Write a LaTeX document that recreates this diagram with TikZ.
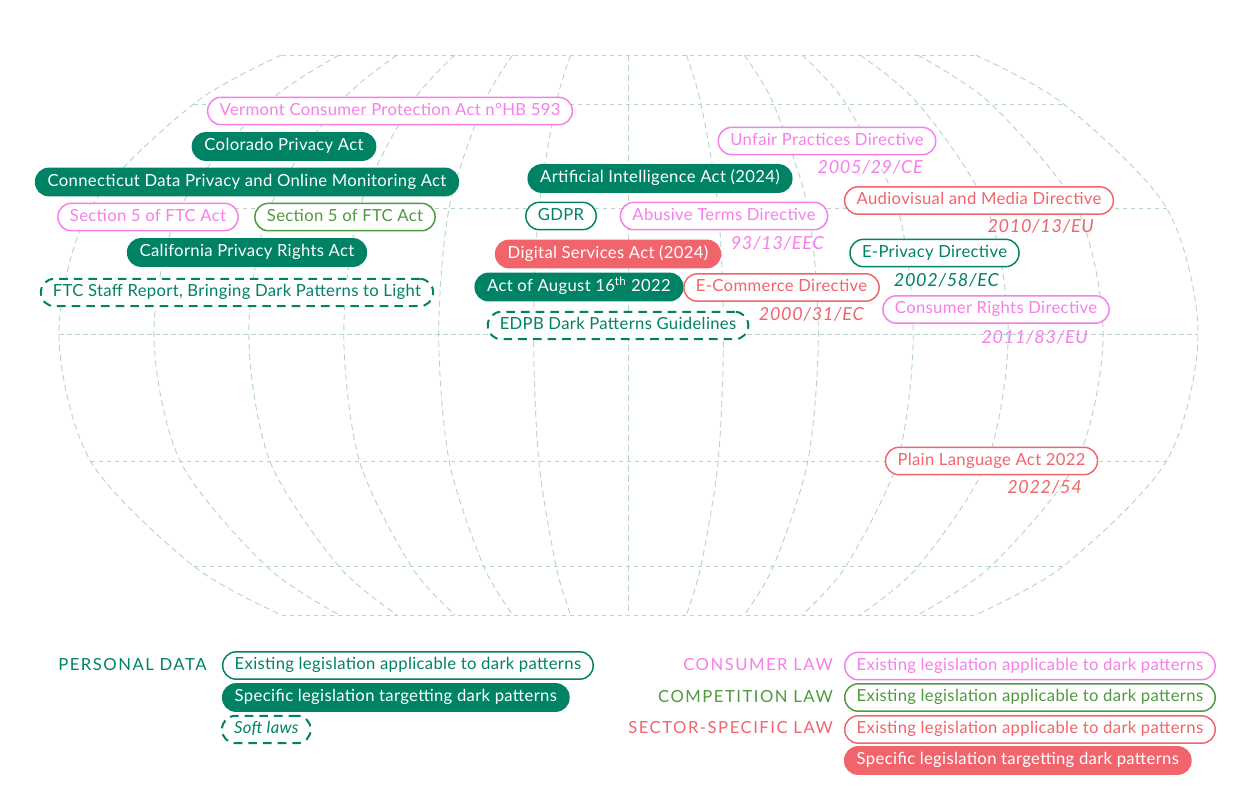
\documentclass[tikz,border=0pt]{standalone}
\usepackage{fontspec}
\setmainfont{Lato}[LetterSpace=2.0]
\definecolor{pdgreen}{HTML}{008264}
\definecolor{cpink}{HTML}{F77EEB}
\definecolor{cgreen}{HTML}{4E9A3E}
\definecolor{sred}{HTML}{F2646C}
\definecolor{gridc}{HTML}{B7D4CB}
\tikzset{
  law/.style={draw,line width=1.1pt,fill=white,rounded corners=10pt,minimum height=20.5pt,
    inner xsep=9pt,inner ysep=0pt,text height=9pt,text depth=2.5pt},
  pdexist/.style={law,draw=pdgreen,text=pdgreen},
  pdspec/.style={law,draw=pdgreen,fill=pdgreen,text=white},
  pdsoft/.style={law,draw=pdgreen,text=pdgreen,line width=1.5pt,dash pattern=on 6.5pt off 4.5pt},
  consexist/.style={law,draw=cpink,text=cpink},
  compexist/.style={law,draw=cgreen,text=cgreen},
  secexist/.style={law,draw=sred,text=sred},
  secspec/.style={law,draw=sred,fill=sred,text=white},
  date/.style={font=\fontsize{13.5}{16}\selectfont\itshape\addfontfeature{LetterSpace=4},anchor=east,inner sep=0pt},
  keylabel/.style={font=\fontsize{12.5}{15}\selectfont\addfontfeature{LetterSpace=9},inner sep=0pt},
  meridian/.style={draw=gridc,line width=0.7pt,dash pattern=on 4.5pt off 3pt},
  parallel/.style={draw=gridc,line width=0.7pt,dash pattern=on 3.5pt off 2.5pt}
}
\begin{document}
\begin{tikzpicture}[x=0.75pt,y=-0.75pt,font=\fontsize{12.5}{15}\selectfont]
\useasboundingbox (0,0) rectangle (1259,785);
% map grid
\foreach \k in {-6,...,6}
  \draw[meridian] plot[smooth] coordinates {(628.5+\k*57.83,55) (628.5+\k*72.5,104) (628.5+\k*89.67,208)
    (628.5+\k*94.92,334) (628.5+\k*89.67,461) (628.5+\k*72.5,566) (628.5+\k*57.83,615)};
\foreach \y/\h in {55/347,104/435,208/538,334/569.5,461/538,566/435,615/347}
  \draw[parallel] (628.5-\h,\y) -- (628.5+\h,\y);
% north america
\node[consexist] (vermont) at (390,111) {Vermont Consumer Protection Act n°HB 593};
\node[pdspec] (colorado) at (284,146.5) {Colorado Privacy Act};
\node[pdspec] (connecticut) at (247,182) {Connecticut Data Privacy and Online Monitoring Act};
\node[consexist] (ftccons) at (148,217) {Section 5 of FTC Act};
\node[compexist] (ftccomp) at (345,217) {Section 5 of FTC Act};
\node[pdspec] (california) at (247,252.5) {California Privacy Rights Act};
\node[pdsoft] (ftcreport) at (237,292.5) {FTC Staff Report, Bringing Dark Patterns to Light};
% europe
\node[pdspec] (aiact) at (660,178.5) {Artificial Intelligence Act (2024)};
\node[pdexist] (gdpr) at (561,216) {GDPR};
\node[consexist] (abusive) at (724,216) {Abusive Terms Directive};
\node[secspec] (dsa) at (608,254) {Digital Services Act (2024)};
\node[pdspec] (august) at (579,287) {Act of August 16\textsuperscript{th} 2022};
\node[pdsoft] (edpb) at (618,325.5) {EDPB Dark Patterns Guidelines};
\node[consexist] (unfair) at (827,141) {Unfair Practices Directive};
\node[secexist] (avmsd) at (979,200.5) {Audiovisual and Media Directive};
\node[pdexist] (eprivacy) at (934.5,253) {E-Privacy Directive};
\node[secexist] (ecommerce) at (781.5,287.5) {E-Commerce Directive};
\node[consexist] (crd) at (996,309.5) {Consumer Rights Directive};
\node[secexist] (plain) at (991.5,461) {Plain Language Act 2022};
% directive numbers
\node[date,text=cpink] (unfairno) at (923,167) {2005/29/CE};
\node[date,text=sred] (avmsdno) at (1094,226) {2010/13/EU};
\node[date,text=cpink] (abusiveno) at (824,243) {93/13/EEC};
\node[date,text=pdgreen] (eprivacyno) at (999,280) {2002/58/EC};
\node[date,text=sred] (ecommerceno) at (864,314) {2000/31/EC};
\node[date,text=cpink] (crdno) at (1088,337) {2011/83/EU};
\node[date,text=sred] (plainno) at (1082,487) {2022/54};
% legend
\node[keylabel,anchor=west,text=pdgreen] (pdkey) at (58,665) {PERSONAL DATA};
\node[pdexist,anchor=west] (pdkeyexist) at (222,665.5) {Existing legislation applicable to dark patterns};
\node[pdspec,anchor=west] (pdkeyspec) at (222,697.5) {Specific legislation targetting dark patterns};
\node[pdsoft,anchor=west] (pdkeysoft) at (221,729.5) {\itshape Soft laws};
\node[keylabel,anchor=east,text=cpink] (conskey) at (833,665) {CONSUMER LAW};
\node[keylabel,anchor=east,text=cgreen] (compkey) at (833,697) {COMPETITION LAW};
\node[keylabel,anchor=east,text=sred] (seckey) at (833,728) {SECTOR-SPECIFIC LAW};
\node[consexist,anchor=west] (conskeyexist) at (844,666) {Existing legislation applicable to dark patterns};
\node[compexist,anchor=west] (compkeyexist) at (844,697.5) {Existing legislation applicable to dark patterns};
\node[secexist,anchor=west] (seckeyexist) at (844,729.5) {Existing legislation applicable to dark patterns};
\node[secspec,anchor=west] (seckeyspec) at (844,760.5) {Specific legislation targetting dark patterns};
\end{tikzpicture}
\end{document}
